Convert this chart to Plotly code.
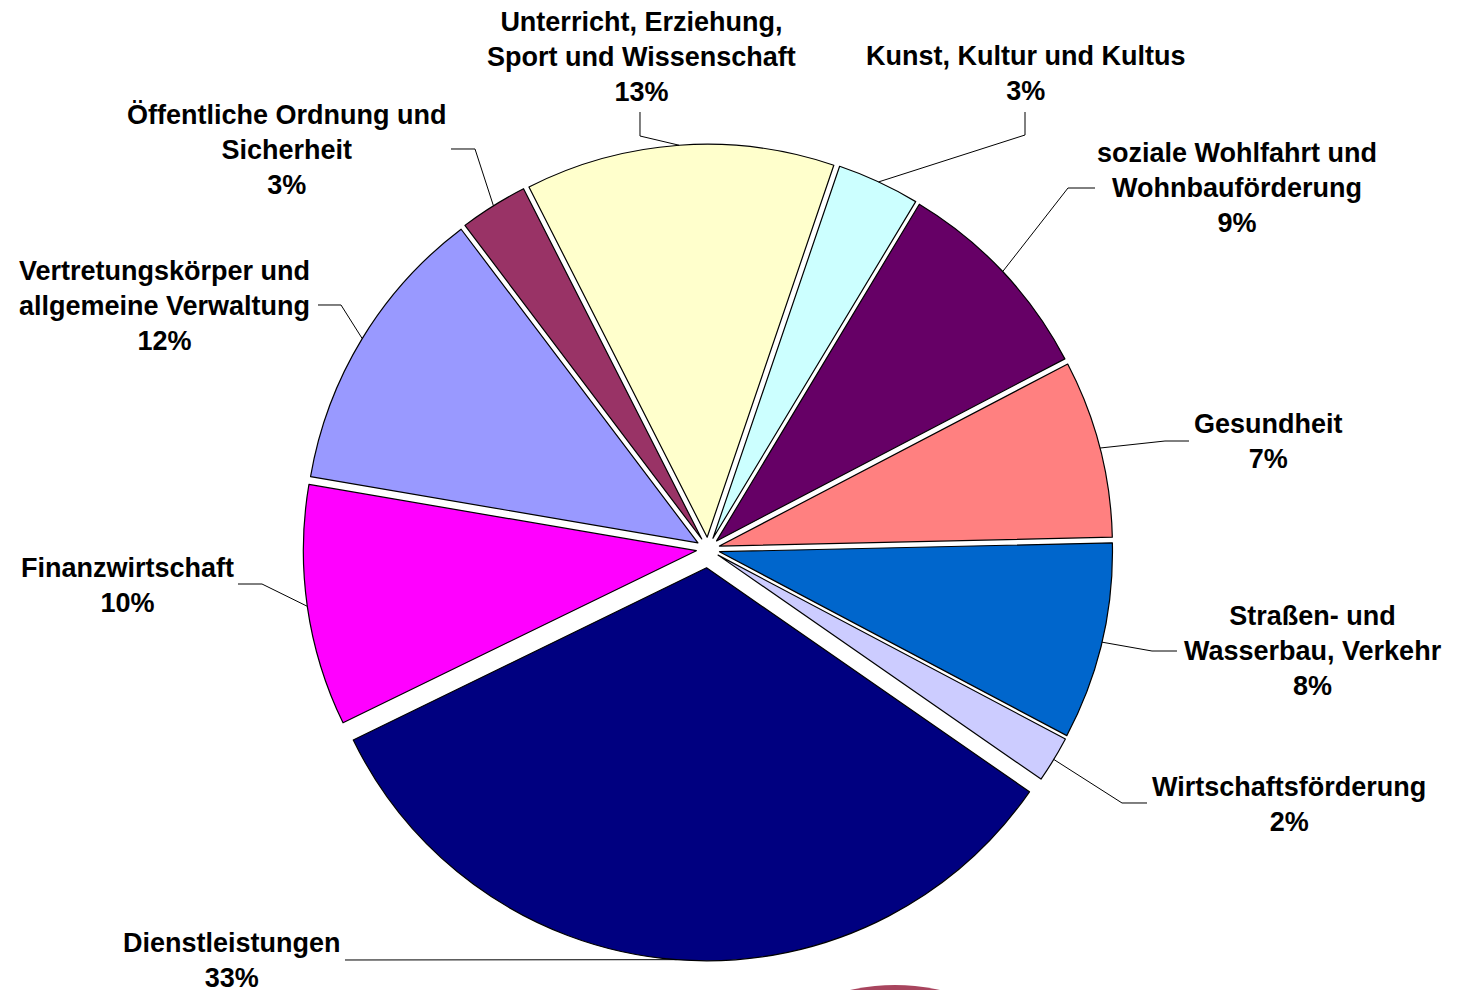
"""
Ausgabenstruktur nach Gruppen – Kreisdiagramm mit Beschriftungen und Führungslinien.
"""

import math

import plotly.graph_objects as go

# ---------------------------------------------------------------------------
# Daten
# ---------------------------------------------------------------------------

labels = [
    "Kunst, Kultur und Kultus",
    "soziale Wohlfahrt und Wohnbauförderung",
    "Gesundheit",
    "Straßen- und Wasserbau, Verkehr",
    "Wirtschaftsförderung",
    "Dienstleistungen",
    "Finanzwirtschaft",
    "Vertretungskörper und allgemeine Verwaltung",
    "Öffentliche Ordnung und Sicherheit",
    "Unterricht, Erziehung, Sport und Wissenschaft",
]
values = [3.4, 8.7, 7.3, 8.1, 1.9, 33.1, 9.9, 12.0, 2.8, 12.7]

# Zeilenumbrüche wie im Original
label_lines = [
    ["Kunst, Kultur und Kultus"],
    ["soziale Wohlfahrt und", "Wohnbauförderung"],
    ["Gesundheit"],
    ["Straßen- und", "Wasserbau, Verkehr"],
    ["Wirtschaftsförderung"],
    ["Dienstleistungen"],
    ["Finanzwirtschaft"],
    ["Vertretungskörper und", "allgemeine Verwaltung"],
    ["Öffentliche Ordnung und", "Sicherheit"],
    ["Unterricht, Erziehung,", "Sport und Wissenschaft"],
]

COLORS = [
    "#CCFFFF", "#660066", "#FF8080", "#0066CC", "#CCCCFF",
    "#000080", "#FF00FF", "#9999FF", "#993366", "#FFFFCC",
]
PULLS = [0.03, 0.03, 0.03, 0.03, 0.03, 0.048, 0.03, 0.03, 0.03, 0.03]

# ---------------------------------------------------------------------------
# Layout (Seitenpixel, Body-Rand 8 px)
# ---------------------------------------------------------------------------

PAGE_W, PAGE_H = 1459, 990
PAD = 8
W, H = PAGE_W - PAD, PAGE_H - PAD
CX, CY, R = 708, 549, 393
ROTATION = 18.8
FONT = dict(family="Liberation Sans, Arial, sans-serif", size=27, color="black")

# Textblock-Mitte (x, y)
label_pos = [
    (1025, 73), (1237, 188), (1268, 441), (1313, 651), (1289, 804),
    (232, 960), (127, 585), (164, 306), (286, 150), (641, 57),
]
# Knickpunkt und Ende der Führungslinie
leader_pts = [
    [(1025, 135), (1025, 112)],
    [(1068, 188), (1095, 188)],
    [(1165, 441), (1189, 441)],
    [(1152, 651), (1177, 651)],
    [(1122, 803), (1147, 803)],
    [(345, 960), (345, 960)],
    [(262, 584), (238, 584)],
    [(341, 305), (318, 305)],
    [(475, 149), (451, 149)],
    [(640, 136), (640, 112)],
]


def px(x, y):
    return (x - PAD) / W, 1 - (y - PAD) / H


half = R * (1 + max(PULLS))
dx0, dy0 = px(CX - half, CY + half)
dx1, dy1 = px(CX + half, CY - half)

fig = go.Figure(go.Pie(
    labels=labels,
    values=values,
    sort=False,
    direction="clockwise",
    rotation=ROTATION,
    pull=PULLS,
    textinfo="none",
    hoverinfo="label+percent",
    marker=dict(colors=COLORS, line=dict(color="black", width=1.2)),
    domain=dict(x=[dx0, dx1], y=[dy0, dy1]),
    showlegend=False,
))

total = sum(values)
cum = 0.0
shapes, annotations = [], []
for i, v in enumerate(values):
    mid = math.radians(ROTATION + 360 * (cum + v / 2) / total)
    cum += v
    rr = R * (1 + PULLS[i])
    sx, sy = CX + rr * math.sin(mid), CY - rr * math.cos(mid)
    (ex, ey), (tx, ty) = leader_pts[i]
    pts = [px(sx, sy), px(ex, ey), px(tx, ty)]
    path = "M {:.5f} {:.5f} L {:.5f} {:.5f} L {:.5f} {:.5f}".format(*[c for p in pts for c in p])
    shapes.append(dict(type="path", path=path, xref="paper", yref="paper",
                       line=dict(color="black", width=1)))

    pct = round(v / total * 100)
    text = "<br>".join(label_lines[i] + [f"{pct}%"])
    lx, ly = px(*label_pos[i])
    annotations.append(dict(
        x=lx, y=ly, xref="paper", yref="paper", text=f"<b>{text}</b>",
        showarrow=False, xanchor="center", yanchor="middle", align="center",
        font=FONT,
    ))

# angeschnittenes Logo am unteren Rand
lx0, ly0 = px(690, 985)
lx1, ly1 = px(1100, 1395)
shapes.append(dict(type="circle", xref="paper", yref="paper",
                   x0=lx0, y0=ly0, x1=lx1, y1=ly1,
                   fillcolor="#A8455E", line=dict(width=0), layer="below"))

fig.update_layout(
    width=W,
    height=H,
    margin=dict(l=0, r=0, t=0, b=0),
    paper_bgcolor="white",
    plot_bgcolor="white",
    shapes=shapes,
    annotations=annotations,
)

fig.write_html("out.html")
